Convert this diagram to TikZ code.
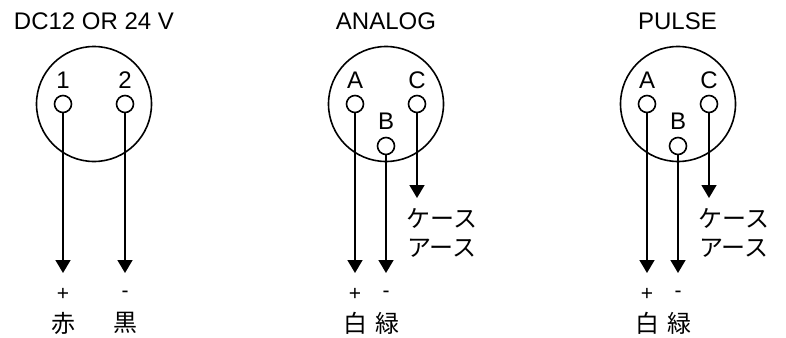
\documentclass[tikz,border=0pt]{standalone}
\usepackage{fontspec}
\setmainfont{Liberation Sans}
\newfontfamily\jpfont{Noto Sans CJK JP}
\usetikzlibrary{arrows.meta}
\tikzset{
    plug/.style={draw, circle, line width=1.6pt, minimum size=115pt, inner sep=0},
    pin/.style={draw, circle, line width=1.6pt, minimum size=17pt, inner sep=0},
    wire/.style={line width=1.6pt, -{Triangle[length=13pt,width=15pt]}},
    txt/.style={font=\fontsize{24pt}{26pt}\selectfont, inner sep=0},
    sign/.style={font=\fontsize{21pt}{23pt}\selectfont, inner sep=0},
    jp/.style={font=\fontsize{24pt}{26pt}\selectfont\jpfont, inner sep=0}
}
\begin{document}
\begin{tikzpicture}[x=1pt, y=-1pt]
    \useasboundingbox (0, 0) rectangle (786, 337);

    \node[txt] (title1) at (94, 21) {DC12 OR 24 V};
    \node[plug] (plug1) at (94, 104) {};
    \node[pin] (p1) at (63, 104) {};
    \node[pin] (p2) at (125, 104) {};
    \node[txt] (n1) at (63, 80) {1};
    \node[txt] (n2) at (125, 80) {2};
    \coordinate (e1) at (63, 273);
    \coordinate (e2) at (125, 273);
    \draw[wire] (p1) -- (e1);
    \draw[wire] (p2) -- (e2);
    \node[sign] (plus1) at (63, 294.5) {+};
    \node[sign] (minus1) at (125, 294.5) {-};
    \node[jp] (red) at (63, 323) {赤};
    \node[jp] (black) at (125, 323) {黒};

    \node[txt] (title2) at (386, 21) {ANALOG};
    \node[plug] (plug2) at (386, 104) {};
    \node[pin] (a2) at (355, 104) {};
    \node[pin] (c2) at (417, 104) {};
    \node[pin] (b2) at (386, 146) {};
    \node[txt] (na2) at (355, 80) {A};
    \node[txt] (nc2) at (417, 80) {C};
    \node[txt] (nb2) at (386, 121) {B};
    \coordinate (ea2) at (355, 273);
    \coordinate (eb2) at (386, 273);
    \coordinate (ec2) at (417, 198);
    \draw[wire] (a2) -- (ea2);
    \draw[wire] (b2) -- (eb2);
    \draw[wire] (c2) -- (ec2);
    \node[jp] (case2) at (442, 218) {ケース};
    \node[jp] (earth2) at (442, 248) {アース};
    \node[sign] (plus2) at (355, 294.5) {+};
    \node[sign] (minus2) at (386, 294.5) {-};
    \node[jp] (white2) at (355, 323) {白};
    \node[jp] (green2) at (387, 323) {緑};

    \node[txt] (title3) at (677.5, 21) {PULSE};
    \node[plug] (plug3) at (678, 104) {};
    \node[pin] (a3) at (647, 104) {};
    \node[pin] (c3) at (709, 104) {};
    \node[pin] (b3) at (678, 146) {};
    \node[txt] (na3) at (647, 80) {A};
    \node[txt] (nc3) at (709, 80) {C};
    \node[txt] (nb3) at (678, 121) {B};
    \coordinate (ea3) at (647, 273);
    \coordinate (eb3) at (678, 273);
    \coordinate (ec3) at (709, 198);
    \draw[wire] (a3) -- (ea3);
    \draw[wire] (b3) -- (eb3);
    \draw[wire] (c3) -- (ec3);
    \node[jp] (case3) at (734, 218) {ケース};
    \node[jp] (earth3) at (734, 248) {アース};
    \node[sign] (plus3) at (647, 294.5) {+};
    \node[sign] (minus3) at (678, 294.5) {-};
    \node[jp] (white3) at (647, 323) {白};
    \node[jp] (green3) at (679, 323) {緑};
\end{tikzpicture}
\end{document}
